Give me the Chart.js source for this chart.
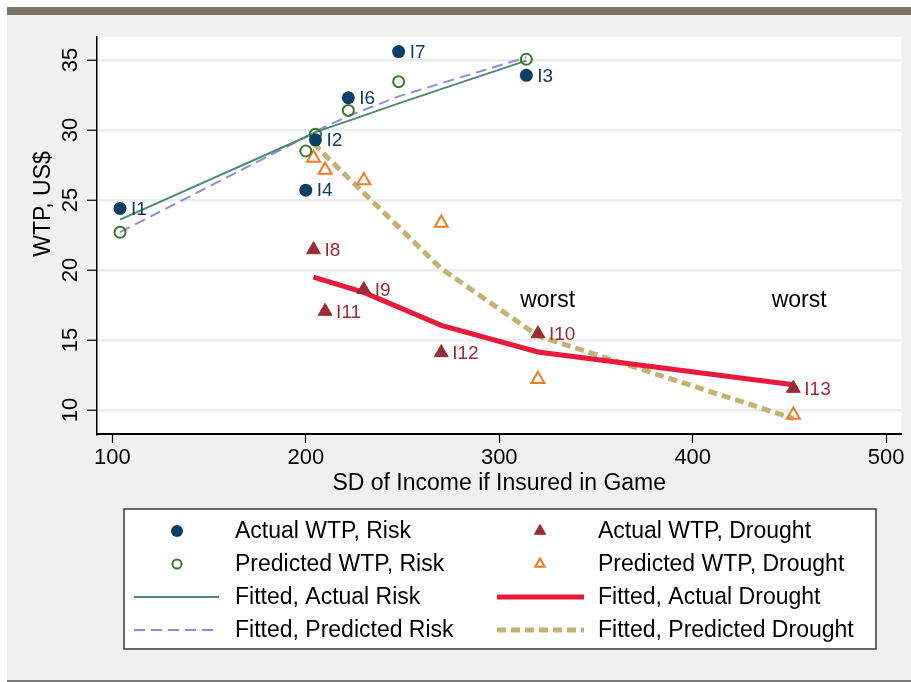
<!DOCTYPE html>
<html>
<head>
<meta charset="utf-8">
<script src="https://cdn.jsdelivr.net/npm/chart.js@4.4.1/dist/chart.umd.min.js"></script>
<style>
  body { margin: 0; background: #fff; }
  #frame {
    position: absolute; left: 7px; top: 7px; width: 904px; height: 675px;
    background: #f0f0ee; border-top: 8px solid #807569; border-bottom: 2px solid #7a7a7a;
    box-sizing: border-box;
  }
  #chart { position: absolute; left: 0; top: 0; }
</style>
</head>
<body>
<div id="frame"></div>
<canvas id="chart" width="911" height="682"></canvas>
<script>
/* Data */
const riskX = [104, 200, 205, 222, 248, 314];
const riskNames = ['I1', 'I4', 'I2', 'I6', 'I7', 'I3'];
const actualRisk = [24.4, 25.7, 29.3, 32.3, 35.6, 33.9];
const predictedRisk = [22.7, 28.5, 29.7, 31.4, 33.45, 35.05];
const fittedActualRisk = [23.6, 29.5, 29.85, 30.65, 31.9, 34.95];
const fittedPredictedRisk = [22.7, 29.5, 29.9, 31.0, 32.4, 35.2];

const droughtX = [204, 210, 230, 270, 320, 452];
const droughtNames = ['I8', 'I11', 'I9', 'I12', 'I10', 'I13'];
const actualDrought = [21.45, 17.05, 18.6, 14.1, 15.45, 11.55];
const predictedDrought = [28.0, 27.15, 26.4, 23.35, 12.2, 9.65];
const fittedActualDrought = [19.5, 19.25, 18.4, 16.05, 14.15, 11.8];
const fittedPredictedDrought = [29.05, 28.2, 25.5, 20.1, 15.3, 9.4];

const xTicks = [100, 200, 300, 400, 500];
const yTicks = [10, 15, 20, 25, 30, 35];
const notes = [{ x: 325, y: 17.8, text: 'worst' }, { x: 455, y: 17.8, text: 'worst' }];

const FONT = '"Liberation Sans", Arial, Helvetica, sans-serif';
const NAVY = '#0b3f64';
const MAROON = '#9b2c35';

const pts = (xs, ys) => xs.map((x, i) => ({ x: x, y: ys[i] }));

function lineSet(label, xs, ys, color, width, dash) {
  return {
    label: label, data: pts(xs, ys), showLine: true, order: 2,
    borderColor: color, borderWidth: width, borderDash: dash || [],
    pointRadius: 0, tension: 0
  };
}

const datasets = [
  { label: 'Actual WTP, Risk', data: pts(riskX, actualRisk), order: 1,
    pointStyle: 'circle', pointRadius: 6.5, pointBackgroundColor: NAVY, pointBorderColor: NAVY, pointBorderWidth: 0,
    names: riskNames, nameColor: NAVY, legendRadius: 6 },
  { label: 'Predicted WTP, Risk', data: pts(riskX, predictedRisk), order: 1,
    pointStyle: 'circle', pointRadius: 5.5, pointBackgroundColor: 'rgba(0,0,0,0)', pointBorderColor: '#3b7a2c', pointBorderWidth: 2,
    legendRadius: 4.5 },
  lineSet('Fitted, Actual Risk', riskX, fittedActualRisk, '#4e8b74', 2),
  lineSet('Fitted, Predicted Risk', riskX, fittedPredictedRisk, '#8c8cd8', 2, [11, 6]),
  { label: 'Actual WTP, Drought', data: pts(droughtX, actualDrought), order: 1,
    pointStyle: 'triangle', pointRadius: 8, pointBackgroundColor: MAROON, pointBorderColor: MAROON, pointBorderWidth: 1,
    names: droughtNames, nameColor: MAROON, legendRadius: 6.5 },
  { label: 'Predicted WTP, Drought', data: pts(droughtX, predictedDrought), order: 1,
    pointStyle: 'triangle', pointRadius: 7.5, pointBackgroundColor: 'rgba(0,0,0,0)', pointBorderColor: '#f47c20', pointBorderWidth: 2,
    legendRadius: 5.5 },
  lineSet('Fitted, Actual Drought', droughtX, fittedActualDrought, '#e8193b', 5),
  lineSet('Fitted, Predicted Drought', droughtX, fittedPredictedDrought, '#c5b273', 5, [9, 5])
];

// white plot region
const plotBg = {
  id: 'plotBg',
  beforeDraw(chart) {
    const { ctx, chartArea: a } = chart;
    ctx.save();
    ctx.fillStyle = '#fff';
    ctx.fillRect(a.left, a.top, a.right - a.left, a.bottom - a.top);
    ctx.restore();
  }
};

// point names, "worst" notes and the y title
const annotate = {
  id: 'annotate',
  afterDatasetsDraw(chart) {
    const ctx = chart.ctx;
    ctx.save();
    ctx.textAlign = 'left';
    ctx.textBaseline = 'middle';
    ctx.font = '19px ' + FONT;
    chart.data.datasets.forEach((ds, i) => {
      if (!ds.names) return;
      ctx.fillStyle = ds.nameColor;
      chart.getDatasetMeta(i).data.forEach((p, j) => ctx.fillText(ds.names[j], p.x + 11, p.y + 1));
    });
    const xs = chart.scales.x, ys = chart.scales.y;
    ctx.font = '23px ' + FONT;
    ctx.fillStyle = '#000';
    ctx.textAlign = 'center';
    notes.forEach(n => ctx.fillText(n.text, xs.getPixelForValue(n.x), ys.getPixelForValue(n.y)));

    ctx.translate(44, 204);
    ctx.rotate(-Math.PI / 2);
    ctx.font = '23px ' + FONT;
    ctx.fillText('WTP, US$', 0, 0);
    ctx.restore();
  }
};

// two-column legend in a box under the plot
const legendBox = {
  id: 'legendBox',
  afterDraw(chart) {
    const ctx = chart.ctx;
    ctx.save();
    ctx.fillStyle = '#fff';
    ctx.fillRect(124, 509, 752, 140);
    ctx.strokeStyle = '#3a3a3a';
    ctx.lineWidth = 1.5;
    ctx.strokeRect(124, 509, 752, 140);
    const rowY = [531, 564, 597, 630];
    const cols = [
      { sym: 177, from: 134, to: 219, text: 235 },
      { sym: 540, from: 497, to: 584, text: 598 }
    ];
    chart.data.datasets.forEach((ds, i) => {
      const c = cols[Math.floor(i / 4)];
      const y = rowY[i % 4];
      if (ds.showLine) {
        ctx.beginPath();
        ctx.setLineDash(ds.borderDash);
        ctx.lineWidth = ds.borderWidth;
        ctx.strokeStyle = ds.borderColor;
        ctx.moveTo(c.from, y);
        ctx.lineTo(c.to, y);
        ctx.stroke();
        ctx.setLineDash([]);
      } else {
        ctx.fillStyle = ds.pointBackgroundColor;
        ctx.strokeStyle = ds.pointBorderColor;
        ctx.lineWidth = ds.pointBorderWidth;
        Chart.helpers.drawPoint(ctx, {
          pointStyle: ds.pointStyle, radius: ds.legendRadius, rotation: 0, borderWidth: ds.pointBorderWidth
        }, c.sym, y);
      }
      ctx.fillStyle = '#000';
      ctx.font = '23px ' + FONT;
      ctx.textAlign = 'left';
      ctx.textBaseline = 'middle';
      ctx.fillText(ds.label, c.text, y + 1);
    });
    ctx.restore();
  }
};

new Chart(document.getElementById('chart'), {
  type: 'scatter',
  data: { datasets: datasets },
  plugins: [plotBg, annotate, legendBox],
  options: {
    responsive: false,
    animation: false,
    devicePixelRatio: 1,
    layout: { padding: { left: 0, top: 37, right: 9, bottom: 185 } },
    plugins: { legend: { display: false }, tooltip: { enabled: false } },
    scales: {
      x: {
        type: 'linear', min: 92.1, max: 507.9,
        afterBuildTicks: s => { s.ticks = xTicks.map(v => ({ value: v })); },
        afterFit: s => { s.height = 63; },
        grid: { drawOnChartArea: false, tickColor: '#000', tickLength: 9, tickWidth: 1.2 },
        border: { color: '#000', width: 2 },
        ticks: { font: { family: FONT, size: 22 }, color: '#000', padding: 2, maxRotation: 0 },
        title: { display: true, text: 'SD of Income if Insured in Game', color: '#000',
                 font: { family: FONT, size: 23 }, padding: 0 }
      },
      y: {
        type: 'linear', min: 8.29, max: 36.64,
        afterBuildTicks: s => { s.ticks = yTicks.map(v => ({ value: v })); },
        afterFit: s => { s.width = 97; },
        grid: { color: '#ececec', lineWidth: 2.5, tickColor: '#000', tickLength: 10, tickWidth: 1.2 },
        border: { color: '#000', width: 1.5 },
        ticks: { font: { family: FONT, size: 22 }, color: '#000', padding: 4,
                 minRotation: 90, maxRotation: 90, crossAlign: 'center' }
      }
    }
  }
});
</script>
</body>
</html>
